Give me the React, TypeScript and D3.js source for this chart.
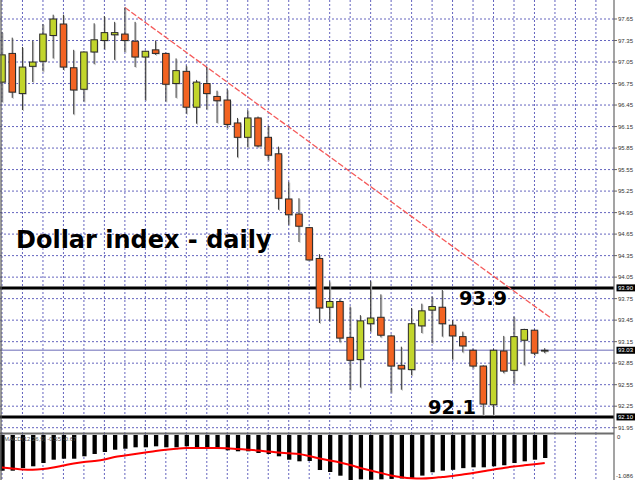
import React, { useEffect, useRef } from 'react';
import * as d3 from 'd3';

// Daily candles (index, open, high, low, close)
const opens = [96.77, 97.17, 96.61, 96.99, 97.06, 97.42, 97.58, 96.97, 96.67, 97.19, 97.35, 97.43, 97.44, 97.34, 97.12, 97.22, 97.17, 96.75, 96.92, 96.42, 96.75, 96.57, 96.52, 96.20, 96.00, 96.27, 96.00, 95.77, 95.14, 94.93, 94.74, 94.31, 93.63, 93.71, 93.21, 92.90, 93.40, 93.49, 93.23, 92.82, 92.76, 93.37, 93.59, 93.63, 93.38, 93.22, 93.03, 92.81, 92.27, 93.02, 92.75, 93.17, 93.31, 93.02];
const highs = [97.47, 97.39, 97.26, 97.35, 97.58, 97.71, 97.71, 97.22, 97.20, 97.59, 97.69, 97.61, 97.81, 97.61, 97.21, 97.35, 97.18, 97.10, 97.00, 96.80, 96.98, 96.65, 96.67, 96.27, 96.38, 96.29, 96.16, 95.87, 95.38, 95.15, 94.75, 94.37, 93.99, 93.75, 93.64, 93.52, 94.00, 93.81, 93.25, 93.08, 93.62, 93.68, 93.78, 93.87, 93.45, 93.29, 93.05, 92.82, 93.05, 93.23, 93.50, 93.33, 93.32, 93.06];
const lows = [96.49, 96.55, 96.38, 96.77, 96.92, 97.10, 96.94, 96.32, 96.50, 97.02, 97.23, 97.08, 97.19, 96.98, 96.52, 97.15, 96.50, 96.55, 96.33, 96.19, 96.39, 96.20, 96.13, 95.72, 95.86, 95.86, 95.68, 94.99, 94.78, 94.54, 94.28, 93.41, 93.44, 93.14, 92.48, 92.51, 93.29, 93.21, 92.44, 92.48, 92.68, 93.27, 93.13, 93.22, 92.90, 93.00, 92.78, 92.13, 92.13, 92.71, 92.56, 92.82, 92.96, 92.99];
const closes = [97.15, 96.63, 96.98, 97.05, 97.44, 97.65, 96.98, 96.66, 97.19, 97.36, 97.46, 97.46, 97.35, 97.12, 97.20, 97.17, 96.74, 96.93, 96.42, 96.77, 96.61, 96.51, 96.18, 96.00, 96.27, 95.88, 95.75, 95.15, 94.92, 94.76, 94.29, 93.62, 93.71, 93.20, 92.89, 93.44, 93.48, 93.24, 92.81, 92.77, 93.40, 93.58, 93.64, 93.40, 93.23, 93.09, 92.81, 92.28, 93.03, 92.74, 93.22, 93.32, 92.99, 93.03];

// MACD(12,26,9): histogram (main) and signal line
const macdMain = [-0.861, -0.861, -0.796, -0.755, -0.676, -0.596, -0.572, -0.572, -0.514, -0.458, -0.410, -0.355, -0.331, -0.297, -0.297, -0.273, -0.297, -0.297, -0.273, -0.290, -0.290, -0.314, -0.369, -0.393, -0.393, -0.434, -0.458, -0.514, -0.596, -0.635, -0.627, -0.845, -0.893, -0.982, -1.086, -1.07, -1.08, -1.07, -1.06, -1.05, -1.04, -0.98, -0.90, -0.86, -0.84, -0.80, -0.78, -0.78, -0.755, -0.73, -0.676, -0.635, -0.596, -0.555];
const macdSignal = [-0.784, -0.808, -0.832, -0.837, -0.820, -0.784, -0.736, -0.688, -0.652, -0.627, -0.591, -0.531, -0.495, -0.458, -0.422, -0.386, -0.355, -0.331, -0.314, -0.314, -0.314, -0.314, -0.319, -0.338, -0.355, -0.374, -0.398, -0.422, -0.439, -0.458, -0.507, -0.567, -0.615, -0.664, -0.724, -0.796, -0.857, -0.917, -0.977, -1.021, -1.045, -1.050, -1.038, -1.013, -0.989, -0.953, -0.917, -0.876, -0.832, -0.796, -0.760, -0.731, -0.705, -0.676];

const priceTicks = [97.65, 97.35, 97.05, 96.75, 96.45, 96.15, 95.85, 95.55, 95.25, 94.95, 94.65, 94.35, 94.05, 93.75, 93.45, 93.15, 92.85, 92.55, 92.25, 91.95];
const levels = [93.9, 92.1];
const levelLabels = ['93.9', '92.1'];
const lastPrice = 93.03;
const trendIdx = [12, 53.6];
const trendPrice = [97.81, 93.48];
const title = 'Dollar index - daily';
const macdLabel = 'MACD(12,26,9) -0.55 -0.67';
const macdMin = -1.086;

export default function App() {
  const ref = useRef<SVGSVGElement>(null);
  useEffect(() => {
    const svg = d3.select(ref.current);
    svg.selectAll('*').remove();
    const W = 640, H = 480;
    const axisX = 614;
    const x = d3.scaleLinear().domain([0, 58]).range([2, 2 + 58 * 10.24]);
    const y = d3.scaleLinear().domain([97.65, 91.95]).range([19, 427.7]);
    const ym = d3.scaleLinear().domain([0, macdMin]).range([435, 480]);
    const gridColor = '#4a4ab4';

    svg.append('rect').attr('width', W).attr('height', H).attr('fill', '#fff');

    // grid verticals
    const vIdx = d3.range(0, 59, 2);
    svg.append('g').selectAll('line').data(vIdx).join('line')
      .attr('x1', d => x(d)).attr('x2', d => x(d)).attr('y1', 0).attr('y2', H)
      .attr('stroke', gridColor).attr('stroke-width', 1).attr('stroke-dasharray', '2,2').attr('opacity', 0.85);
    // grid horizontals
    svg.append('g').selectAll('line').data(priceTicks).join('line')
      .attr('x1', 0).attr('x2', axisX).attr('y1', d => y(d)).attr('y2', d => y(d))
      .attr('stroke', gridColor).attr('stroke-width', 1).attr('stroke-dasharray', '2,2').attr('opacity', 0.85);

    // last price line
    svg.append('line').attr('x1', 0).attr('x2', axisX).attr('y1', y(lastPrice)).attr('y2', y(lastPrice))
      .attr('stroke', '#9c9ccf').attr('stroke-width', 1.5);

    // level lines
    svg.append('g').selectAll('line').data(levels).join('line')
      .attr('x1', 0).attr('x2', axisX).attr('y1', d => y(d)).attr('y2', d => y(d))
      .attr('stroke', '#000').attr('stroke-width', 3);

    // trend line
    svg.append('line')
      .attr('x1', x(trendIdx[0])).attr('y1', y(trendPrice[0]))
      .attr('x2', x(trendIdx[1])).attr('y2', y(trendPrice[1]))
      .attr('stroke', '#f55a5a').attr('stroke-width', 1.3).attr('stroke-dasharray', '6,2');

    // candles
    const data = opens.map((o, i) => ({ i, o, h: highs[i], l: lows[i], c: closes[i] }));
    const bw = 6.5;
    const cg = svg.append('g');
    // shadows
    cg.selectAll('line.sh').data(data).join('line').attr('class', 'sh')
      .attr('x1', d => x(d.i) + 1).attr('x2', d => x(d.i) + 1)
      .attr('y1', d => y(d.h) + 1).attr('y2', d => y(d.l) + 1)
      .attr('stroke', '#bbb').attr('stroke-width', 1);
    cg.selectAll('rect.sh').data(data).join('rect').attr('class', 'sh')
      .attr('x', d => x(d.i) - bw / 2 + 1).attr('width', bw)
      .attr('y', d => y(Math.max(d.o, d.c)) + 1)
      .attr('height', d => Math.max(1, Math.abs(y(d.o) - y(d.c))))
      .attr('fill', '#c4c4c4');
    cg.selectAll('line.w').data(data).join('line').attr('class', 'w')
      .attr('x1', d => x(d.i)).attr('x2', d => x(d.i))
      .attr('y1', d => y(d.h)).attr('y2', d => y(d.l))
      .attr('stroke', '#3a3a3a').attr('stroke-width', 1);
    cg.selectAll('rect.b').data(data).join('rect').attr('class', 'b')
      .attr('x', d => x(d.i) - bw / 2).attr('width', bw)
      .attr('y', d => y(Math.max(d.o, d.c)))
      .attr('height', d => Math.max(0.8, Math.abs(y(d.o) - y(d.c))))
      .attr('fill', d => d.c > d.o ? '#c2d52c' : d.c < d.o ? '#f26322' : '#777')
      .attr('stroke', '#2a2a2a').attr('stroke-width', 1);

    // texts
    svg.append('text').attr('x', 16).attr('y', 248).text(title)
      .attr('font-family', 'DejaVu Sans').attr('font-weight', 'bold').attr('font-size', 24).attr('fill', '#000');
    svg.append('text').attr('x', 459).attr('y', 305).text(levelLabels[0])
      .attr('font-family', 'DejaVu Sans').attr('font-weight', 'bold').attr('font-size', 19.5).attr('fill', '#000');
    svg.append('text').attr('x', 428).attr('y', 414).text(levelLabels[1])
      .attr('font-family', 'DejaVu Sans').attr('font-weight', 'bold').attr('font-size', 19.5).attr('fill', '#000');

    // MACD panel
    svg.append('rect').attr('x', 0).attr('y', 433).attr('width', axisX).attr('height', 47).attr('fill', '#fff');
    svg.append('g').selectAll('line').data(vIdx).join('line')
      .attr('x1', d => x(d)).attr('x2', d => x(d)).attr('y1', 433).attr('y2', H)
      .attr('stroke', gridColor).attr('stroke-width', 1).attr('stroke-dasharray', '2,2').attr('opacity', 0.85);
    svg.append('g').selectAll('rect').data(macdMain).join('rect')
      .attr('x', (d, i) => x(i) + 0.5 - 2.15).attr('width', 4.3)
      .attr('y', ym(0)).attr('height', d => ym(d) - ym(0)).attr('fill', '#000');
    const line = d3.line<number>().x((d, i) => x(i)).y(d => ym(d)).curve(d3.curveMonotoneX);
    svg.append('path').attr('d', line(macdSignal) as string).attr('fill', 'none')
      .attr('stroke', '#ff0000').attr('stroke-width', 2);
    svg.append('line').attr('x1', 0).attr('x2', axisX).attr('y1', 433.5).attr('y2', 433.5)
      .attr('stroke', '#6e6e6e').attr('stroke-width', 2);
    svg.append('text').attr('x', 4).attr('y', 441).text(macdLabel)
      .attr('font-family', 'Liberation Sans').attr('font-size', 6).attr('fill', '#555');

    // left border & right axis
    svg.append('line').attr('x1', 1).attr('x2', 1).attr('y1', 0).attr('y2', H).attr('stroke', '#555').attr('stroke-width', 1.2);
    svg.append('rect').attr('x', axisX).attr('y', 0).attr('width', W - axisX).attr('height', H).attr('fill', '#fff');
    svg.append('line').attr('x1', axisX).attr('x2', axisX).attr('y1', 0).attr('y2', H).attr('stroke', '#666').attr('stroke-width', 1.2);

    const lab = svg.append('g').attr('font-family', 'Liberation Sans').attr('font-size', 6);
    lab.selectAll('line').data(priceTicks).join('line')
      .attr('x1', axisX).attr('x2', axisX + 3).attr('y1', d => y(d)).attr('y2', d => y(d)).attr('stroke', '#666');
    lab.selectAll('text').data(priceTicks).join('text')
      .attr('x', 618).attr('y', d => y(d) + 2).text(d => d.toFixed(2)).attr('fill', '#333');

    const boxes = [...levels, lastPrice];
    const bg = svg.append('g').attr('font-family', 'Liberation Sans').attr('font-size', 6);
    bg.selectAll('rect').data(boxes).join('rect')
      .attr('x', 616.5).attr('y', d => y(d) - 3.5).attr('width', 18.5).attr('height', 7).attr('fill', '#000');
    bg.selectAll('text').data(boxes).join('text')
      .attr('x', 618).attr('y', d => y(d) + 2).text(d => d.toFixed(2)).attr('fill', '#fff');

    svg.append('text').attr('x', 617).attr('y', 439).text('0').attr('font-family', 'Liberation Sans').attr('font-size', 6).attr('fill', '#333');
    svg.append('text').attr('x', 616).attr('y', 478).text(macdMin.toFixed(3)).attr('font-family', 'Liberation Sans').attr('font-size', 6).attr('fill', '#333');
  }, []);
  return <svg ref={ref} width={640} height={480} style={{ position: 'absolute', left: 0, top: 0 }} />;
}
